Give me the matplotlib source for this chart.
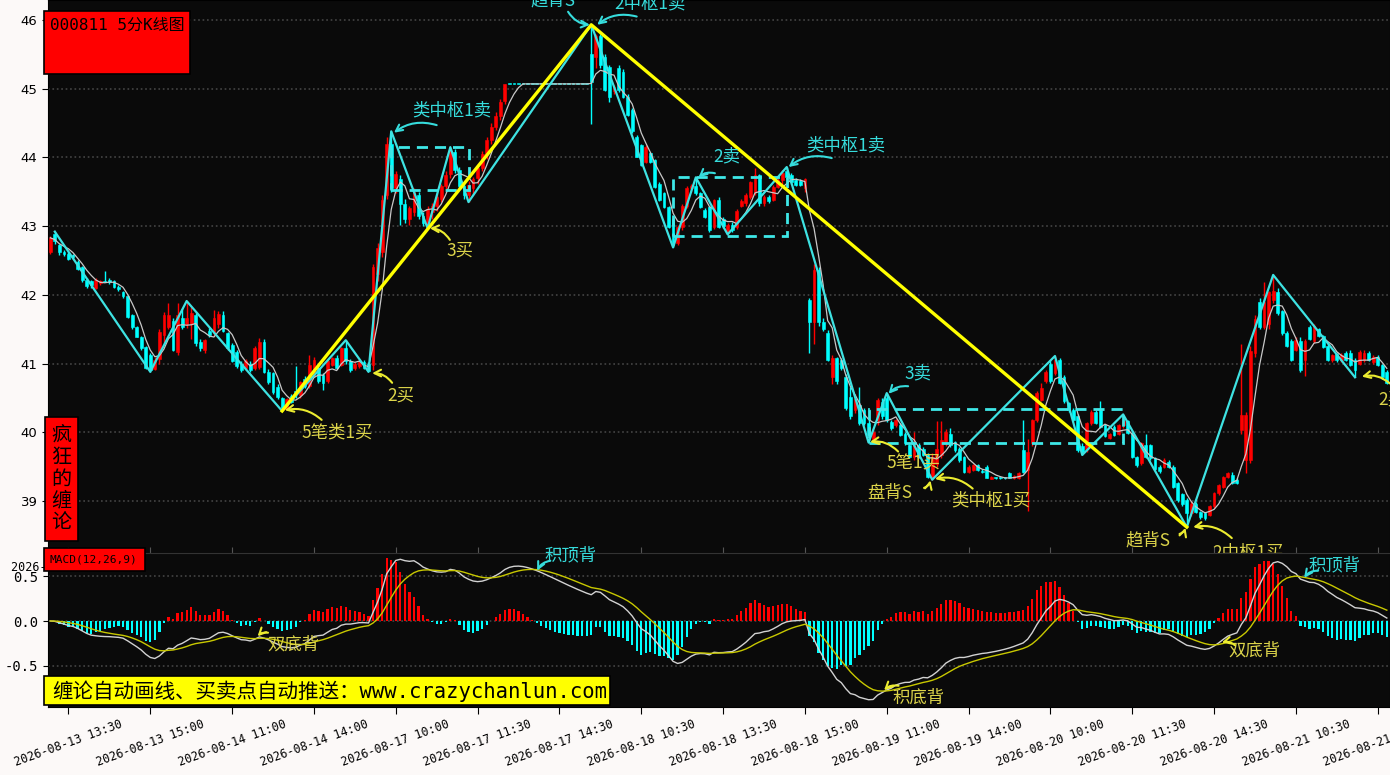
import numpy as np
import pandas as pd
import matplotlib
matplotlib.use("Agg")
import matplotlib.pyplot as plt
from matplotlib.patches import Rectangle

plt.rcParams['font.family'] = ['DejaVu Sans', 'Noto Sans CJK SC']
CJK = ['Noto Sans CJK SC', 'DejaVu Sans']
MONO = ['DejaVu Sans Mono', 'Noto Sans CJK SC']

# 5-minute bars, (open, high, low, close), one list per trading day
bars_0813 = [
    (42.62, 42.86, 42.60, 42.83), (42.88, 42.92, 42.74, 42.78), (42.72, 42.74, 42.58, 42.62),
    (42.62, 42.65, 42.56, 42.60), (42.60, 42.62, 42.50, 42.52), (42.58, 42.60, 42.52, 42.55),
    (42.48, 42.50, 42.36, 42.38), (42.40, 42.42, 42.18, 42.22), (42.22, 42.24, 42.10, 42.13),
    (42.20, 42.22, 42.10, 42.14), (42.10, 42.24, 42.08, 42.22), (42.17, 42.21, 42.15, 42.20),
    (42.20, 42.35, 42.18, 42.19), (42.22, 42.24, 42.16, 42.18), (42.20, 42.22, 42.10, 42.12),
    (42.12, 42.14, 42.06, 42.08), (42.04, 42.06, 41.96, 41.98), (41.98, 42.00, 41.66, 41.68),
    (41.70, 41.72, 41.50, 41.53), (41.53, 41.55, 41.38, 41.39), (41.39, 41.40, 41.20, 41.22),
    (41.24, 41.26, 40.92, 40.94), (41.12, 41.15, 40.88, 40.90),
]
bars_0814 = [
    (40.92, 41.10, 40.90, 41.05), (41.07, 41.50, 41.00, 41.46), (41.41, 41.75, 41.30, 41.70),
    (41.53, 41.88, 41.50, 41.70), (41.62, 41.66, 41.18, 41.20), (41.17, 41.88, 41.12, 41.70),
    (41.66, 41.80, 41.50, 41.53), (41.58, 41.91, 41.52, 41.66), (41.58, 41.82, 41.36, 41.73),
    (41.70, 41.74, 41.26, 41.30), (41.31, 41.36, 41.18, 41.22), (41.20, 41.36, 41.16, 41.34),
    (41.48, 41.52, 41.38, 41.41), (41.44, 41.78, 41.40, 41.66), (41.58, 41.76, 41.52, 41.72),
    (41.70, 41.76, 41.46, 41.48), (41.44, 41.46, 41.20, 41.22), (41.27, 41.30, 41.02, 41.03),
    (41.17, 41.20, 40.94, 40.96), (41.00, 41.03, 40.88, 40.90), (40.93, 41.06, 40.90, 41.03),
    (41.00, 41.04, 40.88, 40.90), (40.93, 41.25, 40.90, 41.22), (40.95, 41.37, 40.92, 41.32),
    (41.32, 41.36, 40.86, 40.88), (40.88, 40.92, 40.70, 40.73), (40.86, 40.88, 40.56, 40.58),
    (40.66, 40.70, 40.48, 40.51), (40.50, 40.52, 40.31, 40.36), (40.34, 40.50, 40.32, 40.48),
    (40.53, 40.56, 40.42, 40.44), (40.60, 40.96, 40.50, 40.55), (40.54, 40.75, 40.50, 40.73),
    (40.78, 40.82, 40.65, 40.67), (40.67, 41.12, 40.64, 40.98), (40.84, 41.10, 40.80, 41.05),
    (40.93, 40.96, 40.72, 40.74), (40.83, 40.86, 40.62, 40.71), (40.74, 41.06, 40.72, 41.03),
    (40.98, 41.10, 40.96, 41.08), (41.08, 41.12, 40.92, 40.93), (40.98, 41.24, 40.96, 41.22),
    (41.22, 41.34, 41.00, 41.03), (41.03, 41.06, 40.88, 40.91), (40.93, 41.02, 40.90, 41.00),
    (40.96, 41.05, 40.94, 41.02), (41.02, 41.05, 40.92, 40.94), (41.00, 41.02, 40.88, 40.89),
]
bars_0817 = [
    (40.98, 42.45, 40.90, 42.40), (42.30, 42.75, 42.20, 42.68), (42.62, 43.45, 42.55, 43.38),
    (43.45, 44.30, 43.40, 44.20), (44.20, 44.38, 43.50, 43.55), (43.55, 43.80, 43.48, 43.76),
    (43.68, 43.74, 43.02, 43.32), (43.32, 43.40, 43.05, 43.10), (43.10, 43.30, 43.02, 43.26),
    (43.20, 43.56, 43.15, 43.50), (43.45, 43.50, 43.10, 43.15), (43.15, 43.20, 43.00, 43.05),
    (43.02, 43.30, 42.97, 43.25), (43.20, 43.34, 43.10, 43.30), (43.30, 43.48, 43.22, 43.42),
    (43.40, 43.62, 43.35, 43.58), (43.58, 43.80, 43.50, 43.75), (43.76, 44.15, 43.70, 44.10),
    (44.08, 44.12, 43.78, 43.82), (43.82, 43.86, 43.55, 43.58), (43.58, 43.62, 43.40, 43.45),
    (43.46, 43.65, 43.35, 43.60), (43.55, 43.72, 43.45, 43.68), (43.70, 43.90, 43.62, 43.85),
    (43.85, 44.10, 43.80, 44.05), (44.05, 44.30, 43.98, 44.25), (44.25, 44.50, 44.20, 44.45),
    (44.45, 44.66, 44.40, 44.60), (44.60, 44.85, 44.55, 44.80), (44.82, 45.07, 44.78, 45.07),
    (45.07, 45.07, 45.07, 45.07), (45.07, 45.07, 45.07, 45.07), (45.07, 45.07, 45.07, 45.07),
    (45.07, 45.07, 45.07, 45.07), (45.07, 45.07, 45.07, 45.07), (45.07, 45.07, 45.07, 45.07),
    (45.07, 45.07, 45.07, 45.07), (45.07, 45.07, 45.07, 45.07), (45.07, 45.07, 45.07, 45.07),
    (45.07, 45.07, 45.07, 45.07), (45.07, 45.07, 45.07, 45.07), (45.07, 45.07, 45.07, 45.07),
    (45.07, 45.07, 45.07, 45.07), (45.07, 45.07, 45.07, 45.07), (45.07, 45.07, 45.07, 45.07),
    (45.07, 45.07, 45.07, 45.07), (45.07, 45.07, 45.07, 45.07), (45.07, 45.07, 45.07, 45.07),
]
bars_0818 = [
    (45.51, 45.93, 44.49, 45.10), (45.46, 45.80, 45.30, 45.76), (45.76, 45.80, 45.30, 45.34),
    (45.46, 45.50, 44.96, 44.98), (45.32, 45.35, 44.81, 44.88), (44.96, 45.05, 44.92, 45.03),
    (45.30, 45.34, 44.95, 44.98), (45.25, 45.28, 44.86, 44.88), (44.88, 44.92, 44.60, 44.62),
    (44.69, 44.72, 44.36, 44.38), (44.30, 44.33, 44.00, 44.01), (44.18, 44.20, 43.88, 43.89),
    (43.94, 44.18, 43.92, 44.15), (44.06, 44.08, 43.92, 43.94), (43.96, 43.98, 43.55, 43.57),
    (43.62, 43.64, 43.36, 43.38), (43.48, 43.50, 43.26, 43.28), (43.28, 43.30, 42.97, 42.99),
    (43.11, 43.13, 42.69, 42.72), (42.75, 43.02, 42.72, 42.99), (42.99, 43.32, 42.95, 43.30),
    (43.30, 43.58, 43.26, 43.55), (43.55, 43.62, 43.50, 43.58), (43.58, 43.71, 43.45, 43.48),
    (43.48, 43.50, 43.26, 43.28), (43.23, 43.26, 43.12, 43.14), (43.28, 43.30, 42.92, 42.94),
    (42.99, 43.40, 42.96, 43.38), (43.38, 43.42, 42.97, 42.99), (43.11, 43.14, 42.98, 43.00),
    (42.92, 43.04, 42.88, 43.02), (43.02, 43.06, 42.92, 42.95), (42.99, 43.25, 42.96, 43.22),
    (43.30, 43.40, 43.28, 43.36), (43.33, 43.48, 43.30, 43.45), (43.43, 43.66, 43.40, 43.64),
    (43.50, 43.84, 43.46, 43.74), (43.74, 43.76, 43.30, 43.33), (43.33, 43.45, 43.30, 43.43),
    (43.43, 43.45, 43.34, 43.36), (43.38, 43.60, 43.36, 43.57), (43.57, 43.70, 43.55, 43.67),
    (43.67, 43.82, 43.60, 43.78), (43.80, 43.86, 43.68, 43.72), (43.74, 43.78, 43.62, 43.64),
    (43.67, 43.70, 43.58, 43.60), (43.66, 43.68, 43.58, 43.60), (43.55, 43.70, 43.50, 43.68),
]
bars_0819 = [
    (41.92, 41.95, 41.15, 41.61), (41.61, 42.45, 41.29, 42.36), (42.36, 42.40, 41.55, 41.61),
    (41.61, 41.66, 41.48, 41.50), (41.45, 41.49, 41.03, 41.05), (40.80, 41.12, 40.70, 41.08),
    (41.08, 41.10, 40.70, 40.74), (41.05, 41.08, 40.90, 40.93), (40.81, 40.85, 40.33, 40.35),
    (40.52, 40.66, 40.20, 40.23), (40.32, 40.55, 40.28, 40.49), (40.39, 40.66, 40.10, 40.13),
    (40.32, 40.35, 40.10, 40.13), (40.13, 40.20, 39.85, 39.96), (39.89, 40.05, 39.86, 40.01),
    (40.18, 40.50, 40.10, 40.47), (40.44, 40.50, 40.20, 40.23), (40.50, 40.57, 40.15, 40.18),
    (40.15, 40.18, 40.04, 40.06), (40.10, 40.20, 40.08, 40.18), (40.11, 40.13, 39.94, 39.96),
    (39.98, 40.00, 39.82, 39.84), (39.81, 39.83, 39.62, 39.64), (39.64, 40.01, 39.60, 39.84),
    (39.81, 39.84, 39.62, 39.64), (39.76, 39.78, 39.65, 39.67), (39.67, 39.70, 39.33, 39.35),
    (39.35, 39.70, 39.31, 39.64), (39.54, 40.16, 39.50, 39.76), (39.67, 40.16, 39.62, 39.89),
    (39.84, 40.05, 39.80, 40.01), (39.98, 40.06, 39.78, 39.81), (39.86, 39.88, 39.72, 39.74),
    (39.76, 39.78, 39.57, 39.59), (39.64, 39.66, 39.40, 39.42), (39.42, 39.52, 39.40, 39.50),
    (39.45, 39.54, 39.43, 39.52), (39.52, 39.54, 39.43, 39.45), (39.43, 39.46, 39.40, 39.42),
    (39.50, 39.52, 39.33, 39.34), (39.32, 39.36, 39.32, 39.35), (39.33, 39.35, 39.32, 39.33),
    (39.33, 39.35, 39.32, 39.33), (39.33, 39.34, 39.32, 39.33), (39.40, 39.42, 39.33, 39.34),
    (39.34, 39.38, 39.32, 39.37), (39.33, 39.42, 39.32, 39.40), (39.74, 40.18, 39.40, 39.42),
]
bars_0820 = [
    (39.45, 39.90, 38.85, 39.72), (39.84, 40.20, 39.80, 40.18), (40.18, 40.60, 40.15, 40.57),
    (40.47, 40.71, 40.45, 40.64), (40.74, 40.90, 40.72, 40.88), (41.00, 41.05, 40.72, 40.74),
    (40.86, 41.11, 40.84, 41.05), (41.05, 41.08, 40.70, 40.71), (40.81, 40.84, 40.43, 40.45),
    (40.42, 40.44, 40.30, 40.32), (40.32, 40.36, 40.16, 40.18), (40.23, 40.26, 39.72, 39.74),
    (39.80, 39.85, 39.67, 39.72), (39.75, 40.15, 39.72, 40.13), (40.13, 40.32, 40.10, 40.30),
    (40.30, 40.33, 40.12, 40.13), (40.32, 40.45, 40.06, 40.08), (40.10, 40.12, 39.93, 39.95),
    (39.92, 39.99, 39.90, 39.98), (40.08, 40.10, 39.94, 39.96), (39.98, 40.12, 39.96, 40.10),
    (40.10, 40.26, 40.06, 40.16), (40.16, 40.18, 39.97, 39.99), (39.98, 40.00, 39.62, 39.64),
    (39.64, 39.66, 39.50, 39.52), (39.55, 39.86, 39.52, 39.84), (39.81, 39.98, 39.62, 39.64),
    (39.81, 39.83, 39.60, 39.62), (39.62, 39.64, 39.45, 39.47), (39.50, 39.52, 39.41, 39.43),
    (39.50, 39.62, 39.48, 39.60), (39.57, 39.60, 39.48, 39.50), (39.50, 39.52, 39.19, 39.21),
    (39.26, 39.28, 38.99, 39.01), (39.10, 39.12, 38.92, 38.95), (39.01, 39.04, 38.62, 38.82),
    (38.82, 39.00, 38.78, 38.96), (38.96, 38.99, 38.82, 38.84), (38.84, 38.86, 38.74, 38.77),
    (38.82, 38.84, 38.72, 38.75), (38.80, 38.94, 38.78, 38.92), (38.92, 39.13, 38.90, 39.11),
    (39.11, 39.25, 39.09, 39.23), (39.21, 39.37, 39.19, 39.35), (39.35, 39.42, 39.33, 39.40),
    (39.38, 39.42, 39.24, 39.26), (39.31, 39.33, 39.24, 39.26), (40.03, 41.29, 39.98, 40.25),
]
bars_0821 = [
    (39.60, 40.30, 39.40, 40.25), (39.60, 41.25, 39.55, 41.19), (41.15, 41.70, 41.10, 41.65),
    (41.90, 41.95, 41.50, 41.53), (41.53, 42.19, 41.50, 41.90), (41.58, 42.06, 41.50, 42.04),
    (41.92, 42.29, 41.88, 42.06), (42.04, 42.10, 41.70, 41.73), (41.76, 41.78, 41.42, 41.45),
    (41.45, 41.48, 41.24, 41.26), (41.33, 41.36, 41.03, 41.05), (41.20, 41.38, 41.18, 41.35),
    (41.33, 41.38, 40.88, 40.90), (41.05, 41.36, 40.82, 41.33), (41.53, 41.56, 41.34, 41.36),
    (41.33, 41.58, 41.30, 41.55), (41.50, 41.52, 41.38, 41.40), (41.40, 41.42, 41.22, 41.24),
    (41.26, 41.28, 41.03, 41.05), (41.05, 41.14, 41.02, 41.12), (41.14, 41.16, 41.02, 41.05),
    (41.05, 41.15, 41.02, 41.13), (41.16, 41.18, 41.03, 41.05), (41.16, 41.20, 40.96, 40.98),
    (41.05, 41.08, 40.80, 40.90), (41.00, 41.20, 40.98, 41.17), (41.05, 41.20, 41.02, 41.15),
    (41.15, 41.18, 41.03, 41.05), (41.02, 41.12, 41.00, 41.10), (41.10, 41.12, 40.96, 40.98),
    (40.98, 41.00, 40.78, 40.80), (40.88, 40.90, 40.70, 40.72),
]

tick_labels = [
    "2026-08-13 13:30", "2026-08-13 15:00", "2026-08-14 11:00", "2026-08-14 14:00",
    "2026-08-17 10:00", "2026-08-17 11:30", "2026-08-17 14:30", "2026-08-18 10:30",
    "2026-08-18 13:30", "2026-08-18 15:00", "2026-08-19 11:00", "2026-08-19 14:00",
    "2026-08-20 10:00", "2026-08-20 11:30", "2026-08-20 14:30", "2026-08-21 10:30",
    "2026-08-21 13:30",
]

# chan theory strokes (bi), segments and pivot boxes (bar index, price)
bi_idx = [1, 22, 30, 51, 65, 70, 75, 83, 88, 92, 119, 137, 142, 149, 162,
          180, 184, 194, 221, 227, 236, 250, 269, 287]
bi_price = [42.92, 40.88, 41.91, 40.31, 41.34, 40.88, 44.38, 42.97, 44.15, 43.35, 45.93,
            42.69, 43.71, 42.88, 43.86, 39.85, 40.57, 39.31, 41.11, 39.67, 40.26, 38.62,
            42.29, 40.80]
seg_idx = [51, 119, 250]
seg_price = [40.31, 45.93, 38.62]
zs_start = [75, 137, 180]
zs_end = [92, 162, 236]
zs_low = [43.53, 42.86, 39.85]
zs_high = [44.15, 43.71, 40.34]

RED = '#ff0000'
CYAN = '#00ffff'
TXT_C = '#36dcdc'
TXT_Y = '#dcd44a'
ARR_Y = '#ecec30'

bars = bars_0813 + bars_0814 + bars_0817 + bars_0818 + bars_0819 + bars_0820 + bars_0821
df = pd.DataFrame(bars, columns=['open', 'high', 'low', 'close'])
x = np.arange(len(df))
ma5 = df['close'].rolling(5, min_periods=1).mean()
ema12 = df['close'].ewm(span=12, adjust=False).mean()
ema26 = df['close'].ewm(span=26, adjust=False).mean()
dif = ema12 - ema26
dea = dif.ewm(span=9, adjust=False).mean()
hist = 2 * (dif - dea)

W, H = 1390, 775
fig = plt.figure(figsize=(W / 100, H / 100), dpi=100, facecolor='#fcf9f8')
ax = fig.add_axes([48 / W, 1 - 553 / H, 1342 / W, 553 / H], facecolor='#0a0a0a')
axm = fig.add_axes([48 / W, 1 - 707 / H, 1342 / W, 154 / H], facecolor='#0a0a0a')
axm.set_zorder(ax.get_zorder() + 1)

# candles
col = np.where(df['close'] > df['open'], RED, CYAN)
ax.vlines(x, df['low'], df['high'], color=col, lw=1, zorder=2)
body = (df['close'] - df['open']).abs().clip(lower=0.012)
ax.bar(x, body, bottom=np.minimum(df['open'], df['close']), width=0.62,
       color=col, edgecolor=col, lw=0.4, zorder=3)
ax.plot(x, ma5, color='#c8c8c8', lw=0.9, zorder=4)

ax.plot(bi_idx, bi_price, color='#3ee2e2', lw=1.6, zorder=5)
ax.plot(seg_idx, seg_price, color='#ffff00', lw=2.4, zorder=6)
for s, e, lo, hi in zip(zs_start, zs_end, zs_low, zs_high):
    ax.add_patch(Rectangle((s, lo), e - s, hi - lo, fill=False, edgecolor='#3ee8e8',
                           lw=2, ls=(0, (4, 2.5)), zorder=5))

ax.set_xlim(-0.5, 294.7)
ax.set_ylim(38.243, 46.291)
ax.set_yticks(range(39, 47))
ax.yaxis.grid(True, color='#444444', ls=':', lw=1.2)
ax.set_axisbelow(True)
ax.set_xticks(range(4, 295, 18))
ax.set_xticklabels(tick_labels, fontsize=8.5, family=MONO)
ax.tick_params(axis='x', direction='in', length=4, color='#555555', pad=6)
ax.tick_params(axis='y', labelsize=9.5, length=4)
for sp in ax.spines.values():
    sp.set_color('black')

# chart notes: text, colour, text pos, arrow tail, arrow head
main_notes = [
    ("趋背S", 'c', (110.6, 46.29), (113.9, 46.12), (118.7, 45.93)),
    ("2中枢1卖", 'c', (131.9, 46.24), (129.0, 46.05), (120.3, 45.93)),
    ("类中枢1卖", 'c', (88.4, 44.69), (85.0, 44.47), (75.6, 44.36)),
    ("3买", 'y', (90.1, 42.65), (87.9, 42.80), (83.5, 42.97)),
    ("2买", 'y', (77.2, 40.54), (75.2, 40.72), (70.8, 40.86)),
    ("5笔类1买", 'y', (63.1, 39.99), (59.7, 40.18), (51.6, 40.32)),
    ("2卖", 'c', (148.9, 44.01), (146.2, 43.77), (142.6, 43.71)),
    ("类中枢1卖", 'c', (175.0, 44.18), (171.9, 43.99), (162.4, 43.86)),
    ("3卖", 'c', (190.9, 40.86), (188.7, 40.67), (184.4, 40.56)),
    ("5笔1买", 'y', (189.8, 39.55), (186.5, 39.72), (180.3, 39.86)),
    ("盘背S", 'y', (184.7, 39.11), (192.2, 39.19), (193.6, 39.30)),
    ("类中枢1买", 'y', (206.9, 39.01), (202.9, 39.18), (194.6, 39.32)),
    ("趋背S", 'y', (241.5, 38.42), (248.4, 38.52), (249.7, 38.61)),
    ("2中枢1买", 'y', (263.5, 38.25), (259.9, 38.46), (251.4, 38.62)),
    ("2买", 'y', (295.2, 40.47), (294.7, 40.71), (288.5, 40.81)),
]
macd_notes = [
    ("双底背", 'y', (53.6, -0.26), (47.9, -0.13), (45.6, -0.17)),
    ("积顶背", 'c', (114.4, 0.733), (110.0, 0.67), (107.1, 0.56)),
    ("积底背", 'y', (190.9, -0.85), (186.6, -0.72), (183.4, -0.77)),
    ("双底背", 'y', (264.8, -0.33), (260.6, -0.27), (257.7, -0.24)),
    ("积顶背", 'c', (282.6, 0.62), (278.9, 0.56), (275.8, 0.48)),
]


def add_notes(a, notes):
    for txt, c, pos, tail, head in notes:
        tc = TXT_C if c == 'c' else TXT_Y
        ac = TXT_C if c == 'c' else ARR_Y
        a.text(pos[0], pos[1], txt, color=tc, fontsize=12.5, family=CJK,
               ha='center', va='center', zorder=8)
        a.annotate('', xy=head, xytext=tail,
                   arrowprops=dict(arrowstyle='->', color=ac, lw=1.5, shrinkA=0, shrinkB=0,
                                   mutation_scale=12, connectionstyle='arc3,rad=0.25'),
                   zorder=8)


add_notes(ax, main_notes)

# MACD panel
axm.bar(x, hist, width=0.5, color=np.where(hist >= 0, RED, CYAN), zorder=2)
axm.plot(x, dif, color='#d2d2d2', lw=1, zorder=3)
axm.plot(x, dea, color='#c8c800', lw=1, zorder=3)
add_notes(axm, macd_notes)
axm.set_xlim(-0.5, 294.7)
axm.set_ylim(-0.956, 0.756)
axm.set_yticks([-0.5, 0.0, 0.5])
axm.set_yticklabels(['-0.5', '0.0', '0.5'], fontsize=10, family=MONO)
axm.yaxis.grid(True, color='#444444', ls=':', lw=1.2)
axm.set_axisbelow(True)
axm.set_xticks(range(4, 295, 18))
axm.set_xticklabels(tick_labels, rotation=20, ha='center', fontsize=8.5, family=MONO)
axm.tick_params(axis='x', length=5, pad=3)
for sp in axm.spines.values():
    sp.set_color('black')
axm.spines['top'].set_color('#333333')


def fig_box(x0, y0, x1, y1, color):
    fig.add_artist(Rectangle((x0 / W, 1 - y1 / H), (x1 - x0) / W, (y1 - y0) / H,
                             transform=fig.transFigure, facecolor=color,
                             edgecolor='black', lw=1.2, zorder=10))


fig_box(44, 11, 190, 74, RED)
fig.text(50 / W, 1 - 25 / H, "000811 5分K线图", fontsize=11.5, family=MONO,
         color='black', ha='left', va='center', zorder=11)

fig_box(45, 417, 78, 541, RED)
fig.text(61.5 / W, 1 - 479 / H, "疯\n狂\n的\n缠\n论", fontsize=14.5, family=CJK,
         color='black', ha='center', va='center', linespacing=1.05, zorder=11)

fig_box(44, 548, 145, 571, RED)
fig.text(50 / W, 1 - 559.5 / H, "MACD(12,26,9)", fontsize=8, family=MONO,
         color='black', ha='left', va='center', zorder=11)

fig_box(44, 676, 610, 705, '#ffff00')
fig.text(52 / W, 1 - 691 / H, "缠论自动画线、买卖点自动推送：www.crazychanlun.com",
         fontsize=14.8, family=MONO, color='black', ha='left', va='center', zorder=11)

fig.savefig("out.png", dpi=100, facecolor=fig.get_facecolor())
